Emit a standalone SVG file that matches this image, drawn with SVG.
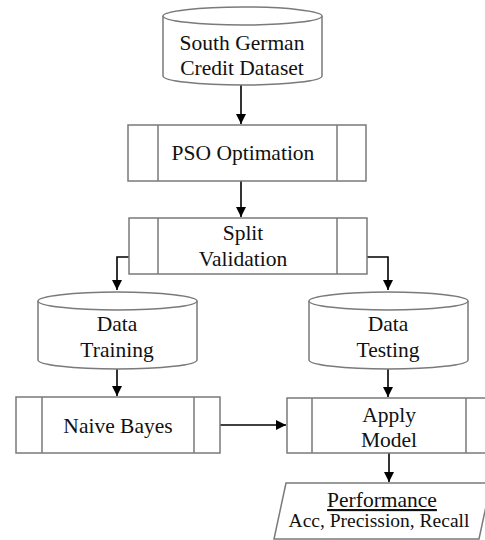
<svg xmlns="http://www.w3.org/2000/svg" width="485" height="540" viewBox="0 0 485 540">
<defs>
<style>
.sh{fill:#fff;stroke:#7a7a7a;stroke-width:1.5}
.ln{fill:none;stroke:#7a7a7a;stroke-width:1.5}
.t{font-family:"Liberation Serif","Times New Roman",serif;font-size:21.5px;fill:#111;text-anchor:middle}
.c{fill:none;stroke:#000;stroke-width:1.6}
</style>
<marker id="ah" viewBox="0 0 10 10" refX="10" refY="5" markerWidth="10" markerHeight="10" markerUnits="userSpaceOnUse" orient="auto">
<path d="M0,0 L10,5 L0,10 z" fill="#000"/>
</marker>
</defs>
<rect width="485" height="540" fill="#fff"/>

<g id="connectors">
<path class="c" d="M241,85 V124" marker-end="url(#ah)"/>
<path class="c" d="M241,181 V217" marker-end="url(#ah)"/>
<path class="c" d="M129,257 H117 V290" marker-end="url(#ah)"/>
<path class="c" d="M367,257 H388 V290" marker-end="url(#ah)"/>
<path class="c" d="M117,369 V396" marker-end="url(#ah)"/>
<path class="c" d="M388,369 V397" marker-end="url(#ah)"/>
<path class="c" d="M220,425 H286" marker-end="url(#ah)"/>
<path class="c" d="M389,453 V482" marker-end="url(#ah)"/>
</g>

<g id="south-german">
<path class="sh" d="M163,16 V76 A79.5,9 0 0 0 322,76 V16"/>
<ellipse class="sh" cx="242.5" cy="16" rx="79.5" ry="9"/>
<text class="t" x="242" y="50">South German</text>
<text class="t" x="242" y="75">Credit Dataset</text>
</g>

<g id="pso">
<rect class="sh" x="128" y="125" width="238" height="56"/>
<path class="ln" d="M158,125 V181 M337,125 V181"/>
<text class="t" x="243" y="160">PSO Optimation</text>
</g>

<g id="split">
<rect class="sh" x="129" y="218" width="238" height="56"/>
<path class="ln" d="M158,218 V274 M337,218 V274"/>
<text class="t" x="243" y="240">Split</text>
<text class="t" x="243" y="266">Validation</text>
</g>

<g id="data-training">
<path class="sh" d="M38,301 V360 A79.5,9 0 0 0 197,360 V301"/>
<ellipse class="sh" cx="117.5" cy="301" rx="79.5" ry="9"/>
<text class="t" x="117" y="331">Data</text>
<text class="t" x="117" y="357">Training</text>
</g>

<g id="data-testing">
<path class="sh" d="M309,301 V360 A79.5,9 0 0 0 468,360 V301"/>
<ellipse class="sh" cx="388.5" cy="301" rx="79.5" ry="9"/>
<text class="t" x="388" y="331">Data</text>
<text class="t" x="388" y="357">Testing</text>
</g>

<g id="naive-bayes">
<rect class="sh" x="16" y="397" width="204" height="56"/>
<path class="ln" d="M42,397 V453 M194,397 V453"/>
<text class="t" x="118" y="433">Naive Bayes</text>
</g>

<g id="apply-model">
<rect class="sh" x="287" y="398" width="204" height="55"/>
<path class="ln" d="M312,398 V453 M466,398 V453"/>
<text class="t" x="389" y="422">Apply</text>
<text class="t" x="389" y="447">Model</text>
</g>

<g id="performance">
<polygon class="sh" points="286,483 491,483 479,539 274,539"/>
<text class="t" x="382" y="507" text-decoration="underline">Performance</text>
<text class="t" x="379" y="527" style="font-size:19.5px">Acc, Precission, Recall</text>
</g>
</svg>
